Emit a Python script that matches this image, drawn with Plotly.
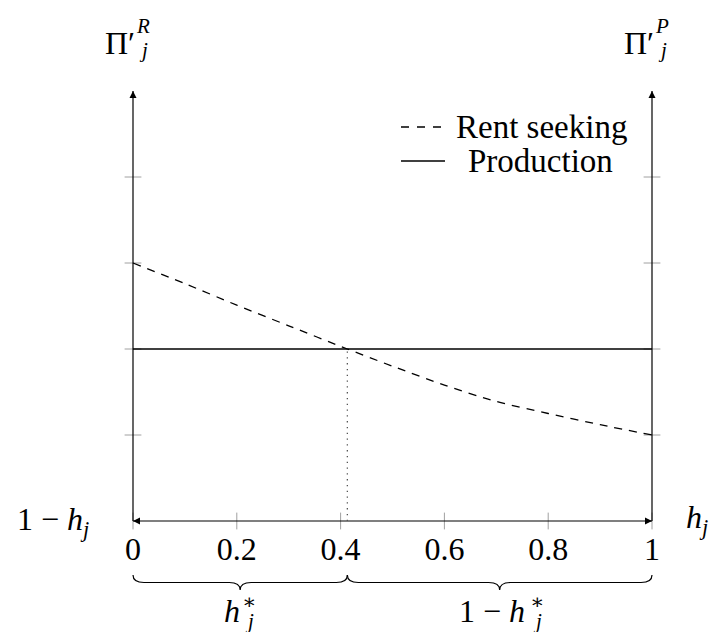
import plotly.graph_objects as go

# ---------------- data ----------------
h_vals = [0.0, 0.1, 0.2, 0.3, 0.413, 0.5, 0.6, 0.7, 0.8, 0.9, 1.0]
rent_seeking = [3.0, 2.76, 2.51, 2.27, 2.0, 1.80, 1.58, 1.39, 1.25, 1.12, 1.0]
prod_h = [0.0, 1.0]
production = [2.0, 2.0]
h_star = 0.413
x_ticks = [0, 0.2, 0.4, 0.6, 0.8, 1]
x_tick_labels = ["0", "0.2", "0.4", "0.6", "0.8", "1"]
y_ticks = [1, 2, 3, 4]
y_top = 5

# ---------------- frame geometry (page pixels) ----------------
PAGE_W, PAGE_H = 717, 633
OFF = 8                      # default page body margin
W, H = PAGE_W - OFF, PAGE_H - OFF
PX0, PXU = 133, 519          # page pixel of h=0, pixels per unit
PY0, PYU = 521, 86           # page pixel of y=0, pixels per unit


def fx(px):
    return (px - PX0) / PXU


def fy(py):
    return (PY0 - py) / PYU


def dx(p):
    return p / PXU


xr = [fx(OFF), fx(PAGE_W)]
yr = [fy(PAGE_H), fy(OFF)]

FONT = "Liberation Serif, Tinos, Times New Roman, DejaVu Serif, serif"
BLACK = "#000000"
TICKC = "#a0a0a0"
FS = 32
SFS = 21

fig = go.Figure()

# tick marks (crossing the axis lines)
fig.add_trace(go.Scatter(
    x=x_ticks, y=[0] * len(x_ticks), mode="markers",
    marker=dict(symbol="line-ns", size=12, line=dict(color=TICKC, width=1)),
    showlegend=False, hoverinfo="skip", cliponaxis=False))
fig.add_trace(go.Scatter(
    x=[0] * len(y_ticks) + [1] * len(y_ticks), y=y_ticks + y_ticks, mode="markers",
    marker=dict(symbol="line-ew", size=12, line=dict(color=TICKC, width=1)),
    showlegend=False, hoverinfo="skip", cliponaxis=False))

# axis lines
for xa in [0, 1]:
    fig.add_trace(go.Scatter(
        x=[xa, xa], y=[0, y_top], mode="lines",
        line=dict(color=BLACK, width=1.2), showlegend=False, hoverinfo="skip"))
fig.add_trace(go.Scatter(
    x=[0, 1], y=[0, 0], mode="lines",
    line=dict(color=BLACK, width=1.2), showlegend=False, hoverinfo="skip"))

# arrowheads
fig.add_trace(go.Scatter(
    x=[0, 1], y=[y_top, y_top], mode="markers",
    marker=dict(symbol="arrow-up", size=7, color=BLACK),
    showlegend=False, hoverinfo="skip", cliponaxis=False))
fig.add_trace(go.Scatter(
    x=[1], y=[0], mode="markers",
    marker=dict(symbol="arrow-right", size=7, color=BLACK),
    showlegend=False, hoverinfo="skip", cliponaxis=False))
fig.add_trace(go.Scatter(
    x=[0], y=[0], mode="markers",
    marker=dict(symbol="arrow-left", size=7, color=BLACK),
    showlegend=False, hoverinfo="skip", cliponaxis=False))

# dotted guide at h*
fig.add_trace(go.Scatter(
    x=[h_star, h_star], y=[0, production[0]], mode="lines",
    line=dict(color="#555555", width=1.3, dash="1.3px,4.5px"),
    showlegend=False, hoverinfo="skip"))

# production (solid)
fig.add_trace(go.Scatter(
    x=prod_h, y=production, mode="lines", name="Production",
    line=dict(color=BLACK, width=1.3), showlegend=False, hoverinfo="skip"))

# rent seeking (dashed)
fig.add_trace(go.Scatter(
    x=h_vals, y=rent_seeking, mode="lines", name="Rent seeking",
    line=dict(color=BLACK, width=1.3, dash="8px,7px", shape="spline", smoothing=0.8),
    showlegend=False, hoverinfo="skip"))

annotations = []


def txt(text, px, py, size=FS, xanchor="center", height=None):
    a = dict(
        x=fx(px), y=fy(py), xref="x", yref="y", text=text, showarrow=False,
        xanchor=xanchor, yanchor="middle", borderpad=0, borderwidth=0,
        font=dict(family=FONT, size=size, color=BLACK))
    if height is not None:
        a["height"] = height
    annotations.append(a)


# axis titles
for off, sup in [(0, "R"), (519, "P")]:
    txt("Π′", 120 + off, 43)
    txt("<i>%s</i>" % sup, 143 + off, 26, SFS)
    txt("<i>j</i>", 143 + off, 50, SFS)

txt("1 − <i>h</i><sub><i>j</i></sub>", 53, 521)
txt("<i>h</i><sub><i>j</i></sub>", 697, 519)

# brace labels (stacked super/subscripts on the right of h)
for hx, text in [(232, "<i>h</i>"), (492, "1 − <i>h</i>")]:
    txt(text, hx, 611)
sx_list = [249, 537]
for sx in sx_list:
    txt("∗", sx, 602, SFS, height=14)
    txt("<i>j</i>", sx, 620.5, SFS, height=22)

# legend
txt("Rent seeking", 541, 127, 33)
txt("Production", 540, 161, 33)

shapes = [
    dict(type="line", xref="x", yref="y", x0=fx(401), x1=fx(443), y0=fy(127), y1=fy(127),
         line=dict(color=BLACK, width=1.3, dash="8px,8px")),
    dict(type="line", xref="x", yref="y", x0=fx(401), x1=fx(445), y0=fy(161), y1=fy(161),
         line=dict(color=BLACK, width=1.3)),
]


def brace(x0, x1):
    yt, ym, yb = fy(575), fy(582.5), fy(590)
    d = dx(11)
    xm = (x0 + x1) / 2
    return (f"M {x0},{yt} Q {x0},{ym} {x0 + d},{ym} L {xm - d},{ym} "
            f"Q {xm},{ym} {xm},{yb} Q {xm},{ym} {xm + d},{ym} "
            f"L {x1 - d},{ym} Q {x1},{ym} {x1},{yt}")


for a, b in [(0, h_star), (h_star, 1)]:
    shapes.append(dict(type="path", xref="x", yref="y", path=brace(a, b),
                       line=dict(color=BLACK, width=1.2)))

fig.update_layout(
    width=W, height=H, margin=dict(l=0, r=0, t=0, b=0),
    paper_bgcolor="white", plot_bgcolor="white",
    font=dict(family=FONT, color=BLACK),
    annotations=annotations, shapes=shapes,
    xaxis=dict(range=xr, showgrid=False, zeroline=False, showline=False,
               tickmode="array", tickvals=x_ticks, ticktext=x_tick_labels,
               ticks="", anchor="free", position=(0 - yr[0]) / (yr[1] - yr[0]),
               tickfont=dict(family=FONT, size=FS, color=BLACK),
               ticklabelstandoff=6, fixedrange=True),
    yaxis=dict(range=yr, visible=False, showgrid=False, zeroline=False, fixedrange=True),
)

fig.write_html("out.html", config={"displayModeBar": False})
